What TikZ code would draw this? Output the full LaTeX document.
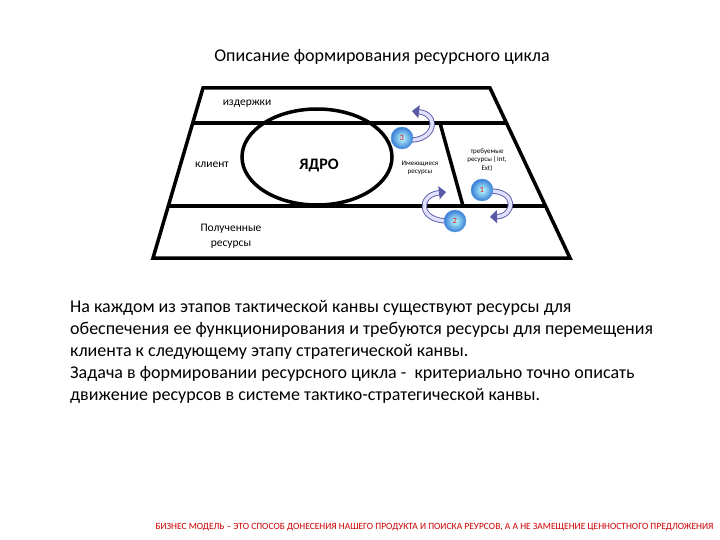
\documentclass[tikz,border=0pt]{standalone}
\usepackage{fontspec}
\setmainfont{Carlito}
\usetikzlibrary{arrows.meta,calc}

\begin{document}
\begin{tikzpicture}[x=1pt,y=-1pt,
  frame/.style={line width=3.5pt, line join=miter},
  ball/.style={circle, minimum size=22pt, inner sep=0pt,
    inner color=cyan!25!white, outer color={rgb,255:red,55;green,125;blue,215},
    draw={rgb,255:red,90;green,150;blue,220}, line width=0.4pt,
    text=red!85!black, font=\fontsize{8}{8}\selectfont},
  loop arrow/.style={draw=blue!30!gray, double=blue!12!white, double distance=3.5pt,
    line width=0.9pt, -{Triangle[length=7pt,width=13pt]}},
  small label/.style={align=center, font=\fontsize{7}{8.5}\selectfont},
  label/.style={align=center, font=\fontsize{11.5}{15}\selectfont},
  ]
  \useasboundingbox (0,0) rectangle (720,540);
  \node (title) at (382,57) {\fontsize{18}{20}\selectfont Описание формирования ресурсного цикла};

  \coordinate (TL) at (203,88);
  \coordinate (TR) at (490,88);
  \coordinate (BL) at (153,258);
  \coordinate (BR) at (570,258);
  \draw[frame] (TL) -- (TR) -- (BR) -- (BL) -- cycle;
  \draw[frame] ($(TL)!0.206!(BL)$) -- ($(TR)!0.206!(BR)$);
  \draw[frame] ($(TL)!0.694!(BL)$) -- ($(TR)!0.694!(BR)$);
  \draw[frame] (440,123) -- (463,206);
  \draw[frame] (317,157) ellipse [x radius=75, y radius=48];

  \node[label] (costs) at (247,104) {издержки};
  \node[label] (client) at (212,165) {клиент};
  \node (core) at (319,165) {\fontsize{16}{18}\selectfont\bfseries ЯДРО};
  \node[small label] (have) at (420,168) {Имеющиеся\\ресурсы};
  \node[small label] (need) at (487,160) {требуемые\\ресурсы ( Int,\\Ext)};
  \node[label] (got) at (231,236) {Полученные\\ресурсы};

  \draw[loop arrow] (407,140) .. controls (436,142) and (440,114) .. (412,111);
  \draw[loop arrow] (488,191) .. controls (518,190) and (515,216) .. (490,217);
  \draw[loop arrow] (448,221) .. controls (418,221) and (418,195) .. (446,192);
  \node[ball] (b3) at (402,138) {3};
  \node[ball] (b1) at (482,190) {1};
  \node[ball] (b2) at (455,221) {2};

  \node[anchor=north west, align=left, inner sep=0pt,
    font=\fontsize{18}{22}\selectfont] (text) at (70,300)
    {На каждом из этапов тактической канвы существуют ресурсы для\\
     обеспечения ее функционирования и требуются ресурсы для перемещения\\
     клиента к следующему этапу стратегической канвы.\\
     Задача в формировании ресурсного цикла -\ \ критериально точно описать\\
     движение ресурсов в системе тактико-стратегической канвы.};

  \node[anchor=east, text=red!80!black, font=\fontsize{9.5}{11}\selectfont] (footer) at (717,527)
    {БИЗНЕС МОДЕЛЬ – ЭТО СПОСОБ ДОНЕСЕНИЯ НАШЕГО ПРОДУКТА И ПОИСКА РЕУРСОВ, А А НЕ ЗАМЕЩЕНИЕ ЦЕННОСТНОГО ПРЕДЛОЖЕНИЯ};
\end{tikzpicture}
\end{document}
